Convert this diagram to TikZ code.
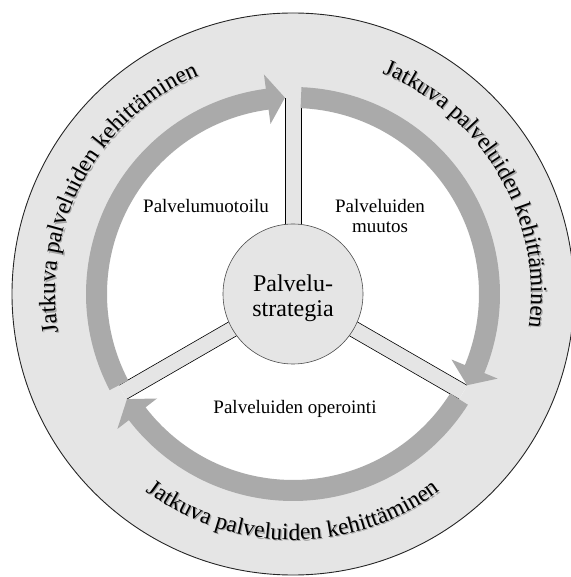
\documentclass[tikz,border=0pt]{standalone}
\usepackage{fontspec}
\setmainfont{Liberation Serif}
\usetikzlibrary{decorations.text,calc}
\definecolor{ringgray}{RGB}{229,229,229}
\definecolor{arrowgray}{RGB}{170,170,170}
\definecolor{shadowgray}{RGB}{165,165,165}
\newcommand{\ringfont}{\fontsize{23.5}{26}\selectfont}
\newcommand{\shadowfont}{\fontsize{23.5}{26}\selectfont\color{shadowgray}}
\newcommand{\labfont}{\fontsize{19}{21}\selectfont}
\newcommand{\corefont}{\fontsize{24}{25}\selectfont}
\newcommand{\ringarrow}[2]{%
  \pgfmathsetmacro{\rahb}{#2+5.2}%
  \fill[arrowgray] (#1:186) arc[start angle=#1, end angle=\rahb, radius=186]
    -- (\rahb:171.5) -- (#2:196.5) -- (\rahb:221.5) -- (\rahb:207)
    arc[start angle=\rahb, end angle=#1, radius=207] -- cycle;}
\tikzset{
  spokeline/.style={draw=black, line width=0.6pt},
  lab/.style={font=\labfont, inner sep=0pt, anchor=base},
  ringtext/.style={decorate, decoration={text along path, text align=center, text={|\ringfont|#1}}},
  ringshadow/.style={decorate, decoration={text along path, text align=center, text={|\shadowfont|#1}}}
}
\begin{document}
\begin{tikzpicture}[x=1pt, y=1pt]
\useasboundingbox (-293,-283) rectangle (277,294);
% outer ring
\fill[ringgray] (0,0) circle[radius=281];
\draw[line width=0.9pt, black!85] (0,0) circle[radius=281];
% inner white area
\fill[white] (0,0) circle[radius=196.5];
% spokes
\foreach \a in {90,210,330}{
  \begin{scope}[rotate=\a]
    \fill[ringgray] (0,-8) rectangle (196.5,8);
    \draw[spokeline] (40,8) -- (196.3,8);
    \draw[spokeline] (40,-8) -- (196.3,-8);
  \end{scope}
}
% core
\node[circle, minimum size=140pt, inner sep=0pt, fill=ringgray, draw=black!70, line width=0.6pt] (core) at (0,0) {};
\node[font=\corefont, inner sep=0pt, anchor=base] (core1) at (0,2) {Palvelu-};
\node[font=\corefont, inner sep=0pt, anchor=base] (core2) at (0,-23) {strategia};
% arrows
\ringarrow{207.66}{92.34}
\ringarrow{87.66}{-27.66}
\ringarrow{-32.34}{-147.66}
% labels
\node[lab] (design) at (-87,81) {Palvelumuotoilu};
\node[lab] (change1) at (87,81) {Palveluiden};
\node[lab] (change2) at (87,61) {muutos};
\node[lab] (oper) at (2,-119) {Palveluiden operointi};
% ring texts (soft shadow first, then text)
\begin{scope}[shift={(1.2,-1.2)}]
\path[ringshadow={Jatkuva palveluiden kehittäminen}] (201.25:238) arc[start angle=201.25, end angle=101.25, radius=238];
\path[ringshadow={Jatkuva palveluiden kehittäminen}] (80:238) arc[start angle=80, end angle=-20, radius=238];
\path[ringshadow={Jatkuva palveluiden kehittäminen}] (220:246) arc[start angle=220, end angle=320, radius=246];
\end{scope}
\path[ringtext={Jatkuva palveluiden kehittäminen}] (201.25:238) arc[start angle=201.25, end angle=101.25, radius=238];
\path[ringtext={Jatkuva palveluiden kehittäminen}] (80:238) arc[start angle=80, end angle=-20, radius=238];
\path[ringtext={Jatkuva palveluiden kehittäminen}] (220:246) arc[start angle=220, end angle=320, radius=246];
\end{tikzpicture}
\end{document}
